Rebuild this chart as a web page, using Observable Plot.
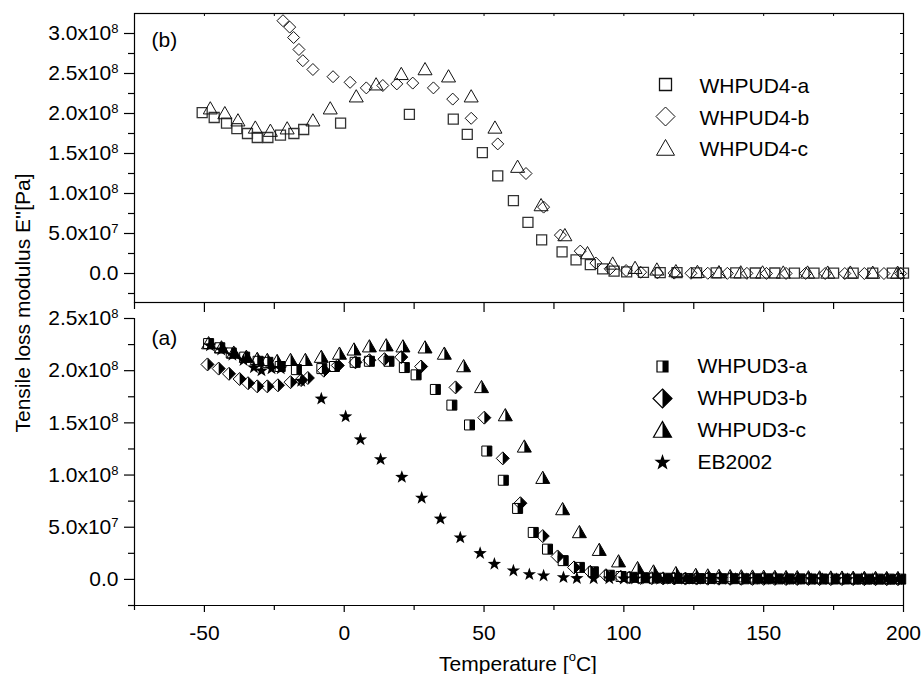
<!DOCTYPE html>
<html><head><meta charset="utf-8">
<script src="https://cdn.jsdelivr.net/npm/d3@7"></script>
<script src="https://cdn.jsdelivr.net/npm/@observablehq/plot@0.6"></script>
<style>
body{margin:0;background:#fff;font-family:"Liberation Sans",Arial,sans-serif;color:#000;}
#wrap{position:relative;width:923px;height:674px;overflow:hidden;background:#fff;}
#top,#bot{position:absolute;left:0;}
#top{top:0px} #bot{top:302px}
.ytitle{position:absolute;left:23px;top:303px;transform:translate(-50%,-50%) rotate(-90deg);font-size:21px;white-space:nowrap;}
.xtitle{position:absolute;left:518px;top:663px;transform:translate(-50%,-50%);font-size:21px;white-space:nowrap;}
.xtitle sup{font-size:13px;position:relative;top:-2px;}
</style></head>
<body><div id="wrap"><div id="top"></div><div id="bot"></div>
<div class="ytitle">Tensile loss modulus E''[Pa]</div>
<div class="xtitle">Temperature [<sup>o</sup>C]</div>
</div>
<script>
// ---------- axes ----------
const xDomain = [-75, 200];
const xMajor = [-50, 0, 50, 100, 150, 200];
const xMinor = [-75, -25, 25, 75, 125, 175];
const yDomainTop = [-3.625e7, 3.25e8];
const yMajorTop = [0, 5e7, 1e8, 1.5e8, 2e8, 2.5e8, 3e8];
const yMinorTop = [-2.5e7, 2.5e7, 7.5e7, 1.25e8, 1.75e8, 2.25e8, 2.75e8];
const yDomainBot = [-2.5e7, 2.5e8];
const yMajorBot = [0, 5e7, 1e8, 1.5e8, 2e8, 2.5e8];
const yMinorBot = [-2.5e7, 2.5e7, 7.5e7, 1.25e8, 1.75e8, 2.25e8];

// ---------- panel (b) data ----------
const w4aT = [-50.8,-46.5,-42.1,-38.4,-34.6,-31.1,-27.3,-22.8,-18.0,-14.5,-1.3,23.3,39.0,44.0,49.4,54.9,60.5,65.7,70.6,77.9,82.9,88.0,92.4,96.5,101,107,113,119,126,133,140,147,154,161,168,175,182,189,196,200];
const w4aV = [2.01e8,1.95e8,1.88e8,1.81e8,1.75e8,1.70e8,1.70e8,1.73e8,1.75e8,1.80e8,1.88e8,1.99e8,1.93e8,1.74e8,1.51e8,1.22e8,9.1e7,6.4e7,4.2e7,2.7e7,1.7e7,1.1e7,5.9e6,2.9e6,2.0e6,1.4e6,1.1e6,1.0e6,0.8e6,0.8e6,0.7e6,0.6e6,0.6e6,0.5e6,0.5e6,0.5e6,0.4e6,0.4e6,0.4e6,0.4e6];
const w4bT = [-21.9,-19.5,-18.1,-16.2,-14.8,-11.2,-4.0,2.1,7.9,13.8,18.8,24.5,31.9,38.8,45.4,54.9,65.0,71.3,77.3,84.4,90.0,95.1,100.8,106,112,118,124,130,137,144,151,158,165,172,179,186,193,199];
const w4bV = [3.16e8,3.08e8,2.95e8,2.80e8,2.66e8,2.55e8,2.46e8,2.39e8,2.32e8,2.35e8,2.37e8,2.38e8,2.32e8,2.18e8,1.94e8,1.62e8,1.25e8,8.3e7,4.8e7,2.8e7,1.3e7,5.9e6,3.7e6,1.6e6,0.8e6,0.5e6,0.3e6,0.3e6,0.2e6,0.2e6,0.1e6,0.1e6,0.1e6,0.0,0.0,0.0,0.0,0.0];
const w4cT = [-47.9,-42.7,-38.0,-31.8,-26.4,-20.4,-11.2,-5.0,4.3,11.4,20.4,28.9,37.3,45.4,53.9,62.0,70.4,78.9,87.0,96,104,111.8,118.6,126.3,134,141.8,149.6,157,165.7,172.9,181,189,197.9];
const w4cV = [2.06e8,2.00e8,1.91e8,1.82e8,1.78e8,1.81e8,1.91e8,2.06e8,2.21e8,2.36e8,2.49e8,2.55e8,2.46e8,2.21e8,1.82e8,1.33e8,8.5e7,4.75e7,2.5e7,1.2e7,6.6e6,4.6e6,2.5e6,1.6e6,1.2e6,1.0e6,0.9e6,0.8e6,0.8e6,0.7e6,0.7e6,0.6e6,0.6e6];

// ---------- panel (a) data ----------
const w3aT = [-48.5,-44.5,-40.4,-35.6,-30.8,-27.3,-22.9,-17.1,-8,-3.5,3.9,9.0,16,21.5,25.7,32.6,38.5,44.8,51.0,56.9,62.0,67.6,72.7,78.3,84.1,89.1,94.8,99,103,107,111,115,119,123,127,131,135,139,143,147,151,155,159,163,167,171,175,179,183,187,191,195,199];
const w3aV = [2.26e8,2.22e8,2.17e8,2.13e8,2.09e8,2.08e8,2.04e8,2.01e8,2.02e8,2.04e8,2.08e8,2.09e8,2.09e8,2.03e8,1.96e8,1.82e8,1.67e8,1.48e8,1.23e8,9.5e7,6.8e7,4.5e7,2.9e7,1.8e7,1.15e7,7.3e6,4.0e6,2.8e6,2.0e6,1.6e6,1.3e6,1.1e6,1.0e6,0.9e6,0.8e6,0.8e6,0.7e6,0.7e6,0.6e6,0.6e6,0.6e6,0.5e6,0.5e6,0.5e6,0.4e6,0.4e6,0.4e6,0.4e6,0.3e6,0.3e6,0.3e6,0.3e6,0.3e6];
const w3bT = [-48.9,-44.9,-41.2,-37.4,-34.4,-31.1,-27.5,-23.7,-19.2,-15.4,-13,-7.3,-2.3,4,9,14.4,20.4,27.5,39.8,50.1,56.7,63,71,76.3,82.2,88,93.6,98.9,102,106,110,114,118,122,126,130,134,138,142,146,150,154,158,162,166,170,174,178,182,186,190,194,198];
const w3bV = [2.06e8,2.02e8,1.97e8,1.92e8,1.88e8,1.85e8,1.85e8,1.86e8,1.89e8,1.91e8,1.93e8,2.00e8,2.05e8,2.08e8,2.10e8,2.11e8,2.13e8,2.04e8,1.84e8,1.55e8,1.16e8,7.3e7,4.15e7,2.2e7,1.15e7,7.3e6,4.0e6,2.5e6,1.8e6,1.4e6,1.2e6,1.0e6,0.9e6,0.8e6,0.8e6,0.7e6,0.7e6,0.6e6,0.6e6,0.5e6,0.5e6,0.5e6,0.4e6,0.4e6,0.4e6,0.3e6,0.3e6,0.3e6,0.3e6,0.2e6,0.2e6,0.2e6,0.2e6];
const w3cT = [-48.5,-43.9,-39.5,-35,-31.1,-27.5,-24,-19.2,-13.9,-8.2,-1.7,3.5,9,15,21,28.9,35.8,42.7,49.1,57.6,64.4,71.0,78.1,84.1,91.2,98.1,104.9,110.6,118.6,125.7,130,134,138,142,146,150,154,158,162,166,170,174,178,182,186,190,194,198];
const w3cV = [2.26e8,2.22e8,2.17e8,2.13e8,2.11e8,2.10e8,2.09e8,2.10e8,2.10e8,2.13e8,2.16e8,2.20e8,2.23e8,2.24e8,2.23e8,2.22e8,2.16e8,2.04e8,1.84e8,1.57e8,1.27e8,9.7e7,6.7e7,4.5e7,2.8e7,1.7e7,1.05e7,7.3e6,5.7e6,4.0e6,3.5e6,3.0e6,2.8e6,2.6e6,2.4e6,2.2e6,2.0e6,1.9e6,1.8e6,1.7e6,1.6e6,1.5e6,1.4e6,1.3e6,1.2e6,1.1e6,1.0e6,1.0e6];
const ebT = [-48,-44,-40,-36,-32.3,-29.6,-26,-22.7,-15.4,-8.2,0.5,5.8,13,20.6,27.7,34.4,41.5,48.6,53.7,60.5,66.2,71.3,78.4,83.2,89.2,94.8,100,104,108,113,117,122,126,131,135,140,144,149,153,158,162,167,171,176,180,185,189,194,198];
const ebV = [2.24e8,2.20e8,2.15e8,2.10e8,2.03e8,2.00e8,2.02e8,2.02e8,1.90e8,1.73e8,1.56e8,1.34e8,1.15e8,9.8e7,7.8e7,5.8e7,4.0e7,2.5e7,1.47e7,8.3e6,4.8e6,3.5e6,1.9e6,1.0e6,0.9e6,0.8e6,0.6e6,0.5e6,0.5e6,0.4e6,0.4e6,0.4e6,0.3e6,0.3e6,0.3e6,0.3e6,0.2e6,0.2e6,0.2e6,0.2e6,0.2e6,0.1e6,0.1e6,0.1e6,0.1e6,0.1e6,0.1e6,0.1e6,0.1e6];

const legendTop = ["WHPUD4-a", "WHPUD4-b", "WHPUD4-c"];
const legendBot = ["WHPUD3-a", "WHPUD3-b", "WHPUD3-c", "EB2002"];

// ---------- symbols ----------
const R = s => Math.sqrt(s / Math.PI);
const sq = {draw(c, s){const r=R(s); c.moveTo(-r,-r); c.lineTo(r,-r); c.lineTo(r,r); c.lineTo(-r,r); c.closePath();}};
const sqHalf = {draw(c, s){const r=R(s); c.moveTo(0,-r); c.lineTo(r,-r); c.lineTo(r,r); c.lineTo(0,r); c.closePath();}};
const dia = {draw(c, s){const r=R(s); c.moveTo(0,-r); c.lineTo(r,0); c.lineTo(0,r); c.lineTo(-r,0); c.closePath();}};
const diaHalf = {draw(c, s){const r=R(s); c.moveTo(0,-r); c.lineTo(r,0); c.lineTo(0,r); c.closePath();}};
const tri = {draw(c, s){const r=R(s); c.moveTo(0,-r); c.lineTo(r,0.75*r); c.lineTo(-r,0.75*r); c.closePath();}};
const triHalf = {draw(c, s){const r=R(s); c.moveTo(0,-r); c.lineTo(r,0.75*r); c.lineTo(0,0.75*r); c.closePath();}};
const star = {draw(c, s){const r=R(s), ri=r*0.4; for(let i=0;i<10;i++){const a=-Math.PI/2+i*Math.PI/5, q=i%2?ri:r; const px=q*Math.cos(a), py=q*Math.sin(a); if(i===0)c.moveTo(px,py); else c.lineTo(px,py);} c.closePath();}};

const rows = (T, V) => T.map((t, i) => ({t, v: V[i]}));

function fmt(v){
  if (v === 0) return "0.0";
  const e = Math.floor(Math.log10(Math.abs(v)) + 1e-9);
  return (v / 10 ** e).toFixed(1) + "x10^" + e;
}
function supify(svg){
  const ns = "http://www.w3.org/2000/svg";
  svg.querySelectorAll("text").forEach(t => {
    const s = t.textContent;
    if (!s.includes("^")) return;
    const [base, ex] = s.split("^");
    while (t.firstChild) t.removeChild(t.firstChild);
    const a = document.createElementNS(ns, "tspan"); a.textContent = base; t.appendChild(a);
    const b = document.createElementNS(ns, "tspan"); b.textContent = ex;
    b.setAttribute("dy", "-0.55em"); b.setAttribute("font-size", "13"); t.appendChild(b);
  });
}

const W = 923, ML = 134, MR = 20;
const plotW = W - ML - MR;
const font = "'Liberation Sans', Arial, sans-serif";
const FS = 21;

function openDot(data, sym, r, extra = {}){
  return Plot.dot(data, {x: "t", y: "v", symbol: sym, r, fill: "none", stroke: "#111", strokeWidth: 1, ...extra});
}
function halfDot(data, outline, half, r){
  return [
    Plot.dot(data, {x: "t", y: "v", symbol: outline, r, fill: "none", stroke: "#000", strokeWidth: 1}),
    Plot.dot(data, {x: "t", y: "v", symbol: half, r, fill: "#000", stroke: "none"})
  ];
}
const label = (txt, dx, dy) => Plot.text([txt], {frameAnchor: "top-left", dx, dy, text: d => d, fontSize: FS, textAnchor: "start", lineAnchor: "middle"});

// ---------- top panel (b) ----------
const topH = 318, topMT = 13, topMB = 16;
const topPlotH = topH - topMT - topMB;
const topLegendSyms = [[sq, 6, 1.3], [dia, 9.5, 1], [tri, 9, 1]];
const topPlot = Plot.plot({
  width: W, height: topH,
  marginLeft: ML, marginRight: MR, marginTop: topMT, marginBottom: topMB,
  x: {domain: xDomain},
  y: {domain: yDomainTop},
  style: {background: "transparent", fontFamily: font, fontSize: FS + "px", color: "#000", overflow: "visible"},
  marks: [
    Plot.frame({stroke: "#000", strokeWidth: 1.2}),
    Plot.axisY({ticks: yMajorTop, tickSize: 10, tickPadding: 6, tickFormat: fmt, fontSize: FS, label: null, strokeWidth: 1.2}),
    Plot.axisY({ticks: yMinorTop, tickSize: 6, tickFormat: () => "", label: null, strokeWidth: 1.2}),
    Plot.ruleY(yMajorTop.concat(yMinorTop), {insetLeft: plotW - 3, stroke: "#000"}),
    Plot.axisX({ticks: xMajor, tickSize: 10, tickFormat: () => "", label: null, strokeWidth: 1.2}),
    Plot.axisX({ticks: xMinor, tickSize: 7, tickFormat: () => "", label: null, strokeWidth: 1.2}),
    Plot.ruleX(xMajor.concat(xMinor), {insetBottom: topPlotH - 3, stroke: "#000"}),
    openDot(rows(w4aT, w4aV), sq, 5, {stroke: "#333", strokeWidth: 1.3}),
    openDot(rows(w4bT, w4bV), dia, 6),
    openDot(rows(w4cT, w4cV), tri, 7),
    label("(b)", 17, 27),
    ...legendTop.flatMap((name, i) => [
      Plot.dot([name], {frameAnchor: "top-left", dx: 531, dy: 71 + i * 32, symbol: topLegendSyms[i][0], r: topLegendSyms[i][1], fill: "none", stroke: "#111", strokeWidth: topLegendSyms[i][2]}),
      label(name, 565, 73 + i * 31.5)
    ])
  ]
});
supify(topPlot);
document.getElementById("top").appendChild(topPlot);

// ---------- bottom panel (a) ----------
const botH = 372, botMT = 16, botMB = 69;
const botLegendSyms = [[sq, sqHalf, 5.5], [dia, diaHalf, 9.5], [tri, triHalf, 9], [star, null, 8.5]];
const botPlot = Plot.plot({
  width: W, height: botH,
  marginLeft: ML, marginRight: MR, marginTop: botMT, marginBottom: botMB,
  x: {domain: xDomain},
  y: {domain: yDomainBot},
  style: {background: "transparent", fontFamily: font, fontSize: FS + "px", color: "#000", overflow: "visible"},
  marks: [
    Plot.ruleX([xDomain[0], xDomain[1]], {stroke: "#000", strokeWidth: 1.2}),
    Plot.ruleY([yDomainBot[0]], {stroke: "#000", strokeWidth: 1.2}),
    Plot.axisY({ticks: yMajorBot, tickSize: 10, tickPadding: 6, tickFormat: fmt, fontSize: FS, label: null, strokeWidth: 1.2}),
    Plot.axisY({ticks: yMinorBot, tickSize: 6, tickFormat: () => "", label: null, strokeWidth: 1.2}),
    Plot.ruleY(yMajorBot.concat(yMinorBot), {insetLeft: plotW - 3, stroke: "#000"}),
    Plot.axisX({ticks: xMajor, tickSize: 0, tickPadding: 20, tickFormat: d => String(d), fontSize: FS, label: null}),
    Plot.axisX({ticks: xMajor, tickSize: 7, tickFormat: () => "", label: null, strokeWidth: 1.2}),
    Plot.axisX({ticks: xMinor, tickSize: 5, tickFormat: () => "", label: null, strokeWidth: 1.2}),
    ...halfDot(rows(w3aT, w3aV), sq, sqHalf, 5),
    ...halfDot(rows(w3bT, w3bV), dia, diaHalf, 6.5),
    ...halfDot(rows(w3cT, w3cV), tri, triHalf, 7),
    Plot.dot(rows(ebT, ebV), {x: "t", y: "v", symbol: star, r: 7, fill: "#000", stroke: "none"}),
    label("(a)", 17, 20),
    ...legendBot.flatMap((name, i) => {
      const [o, h, r] = botLegendSyms[i];
      const dy = 48 + i * 32;
      const ms = h
        ? [Plot.dot([name], {frameAnchor: "top-left", dx: 528, dy, symbol: o, r, fill: "none", stroke: "#000", strokeWidth: 1.2}),
           Plot.dot([name], {frameAnchor: "top-left", dx: 528, dy, symbol: h, r, fill: "#000", stroke: "none"})]
        : [Plot.dot([name], {frameAnchor: "top-left", dx: 528, dy, symbol: o, r, fill: "#000", stroke: "none"})];
      return [...ms, label(name, 563, dy)];
    })
  ]
});
supify(botPlot);
document.getElementById("bot").appendChild(botPlot);
</script>
</body></html>
